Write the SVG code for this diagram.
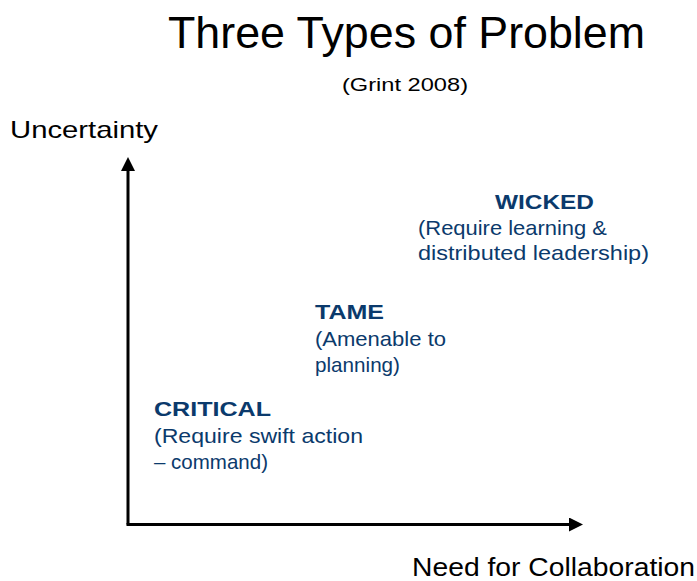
<svg xmlns="http://www.w3.org/2000/svg" width="697" height="581" viewBox="0 0 697 581">
<style>
text{font-family:"Comic Sans MS","Liberation Sans","DejaVu Sans",sans-serif}
.k{fill:#000}
.b{fill:#0b3a6c;font-size:21px}
.h{font-weight:bold;font-size:21px}
.ax{stroke:#000;stroke-width:3;fill:none}
</style>
<defs>
<marker id="ah" viewBox="0 0 10 10" refX="0" refY="5" markerWidth="15" markerHeight="14" markerUnits="userSpaceOnUse" orient="auto">
<path d="M0,0L10,5L0,10z" fill="#000"/>
</marker>
</defs>
<rect width="697" height="581" fill="#fff"/>
<g id="title">
<text class="k" x="168" y="48" font-size="44" textLength="477" lengthAdjust="spacingAndGlyphs">Three Types of Problem</text>
<text class="k" x="342" y="91" font-size="19" textLength="126" lengthAdjust="spacingAndGlyphs">(Grint 2008)</text>
</g>
<g id="axis-labels">
<text class="k" x="10" y="138" font-size="24" textLength="148" lengthAdjust="spacingAndGlyphs">Uncertainty</text>
<text class="k" x="412" y="576" font-size="25" textLength="283" lengthAdjust="spacingAndGlyphs">Need for Collaboration</text>
</g>
<g id="connectors">
<path class="ax" d="M128,524.5V171" marker-end="url(#ah)"/>
<path class="ax" d="M126.5,524.5H569" marker-end="url(#ah)"/>
</g>
<g id="wicked">
<text class="b h" x="495" y="209" textLength="99" lengthAdjust="spacingAndGlyphs">WICKED</text>
<text class="b" x="418" y="235" textLength="189" lengthAdjust="spacingAndGlyphs">(Require learning &amp;</text>
<text class="b" x="418" y="260" textLength="231" lengthAdjust="spacingAndGlyphs">distributed leadership)</text>
</g>
<g id="tame">
<text class="b h" x="315" y="319" textLength="69" lengthAdjust="spacingAndGlyphs">TAME</text>
<text class="b" x="315" y="346" textLength="131" lengthAdjust="spacingAndGlyphs">(Amenable to</text>
<text class="b" x="315" y="372" textLength="85" lengthAdjust="spacingAndGlyphs">planning)</text>
</g>
<g id="critical">
<text class="b h" x="154" y="416" textLength="117" lengthAdjust="spacingAndGlyphs">CRITICAL</text>
<text class="b" x="154" y="443" textLength="209" lengthAdjust="spacingAndGlyphs">(Require swift action</text>
<text class="b" x="154" y="469" textLength="114" lengthAdjust="spacingAndGlyphs">– command)</text>
</g>
</svg>
